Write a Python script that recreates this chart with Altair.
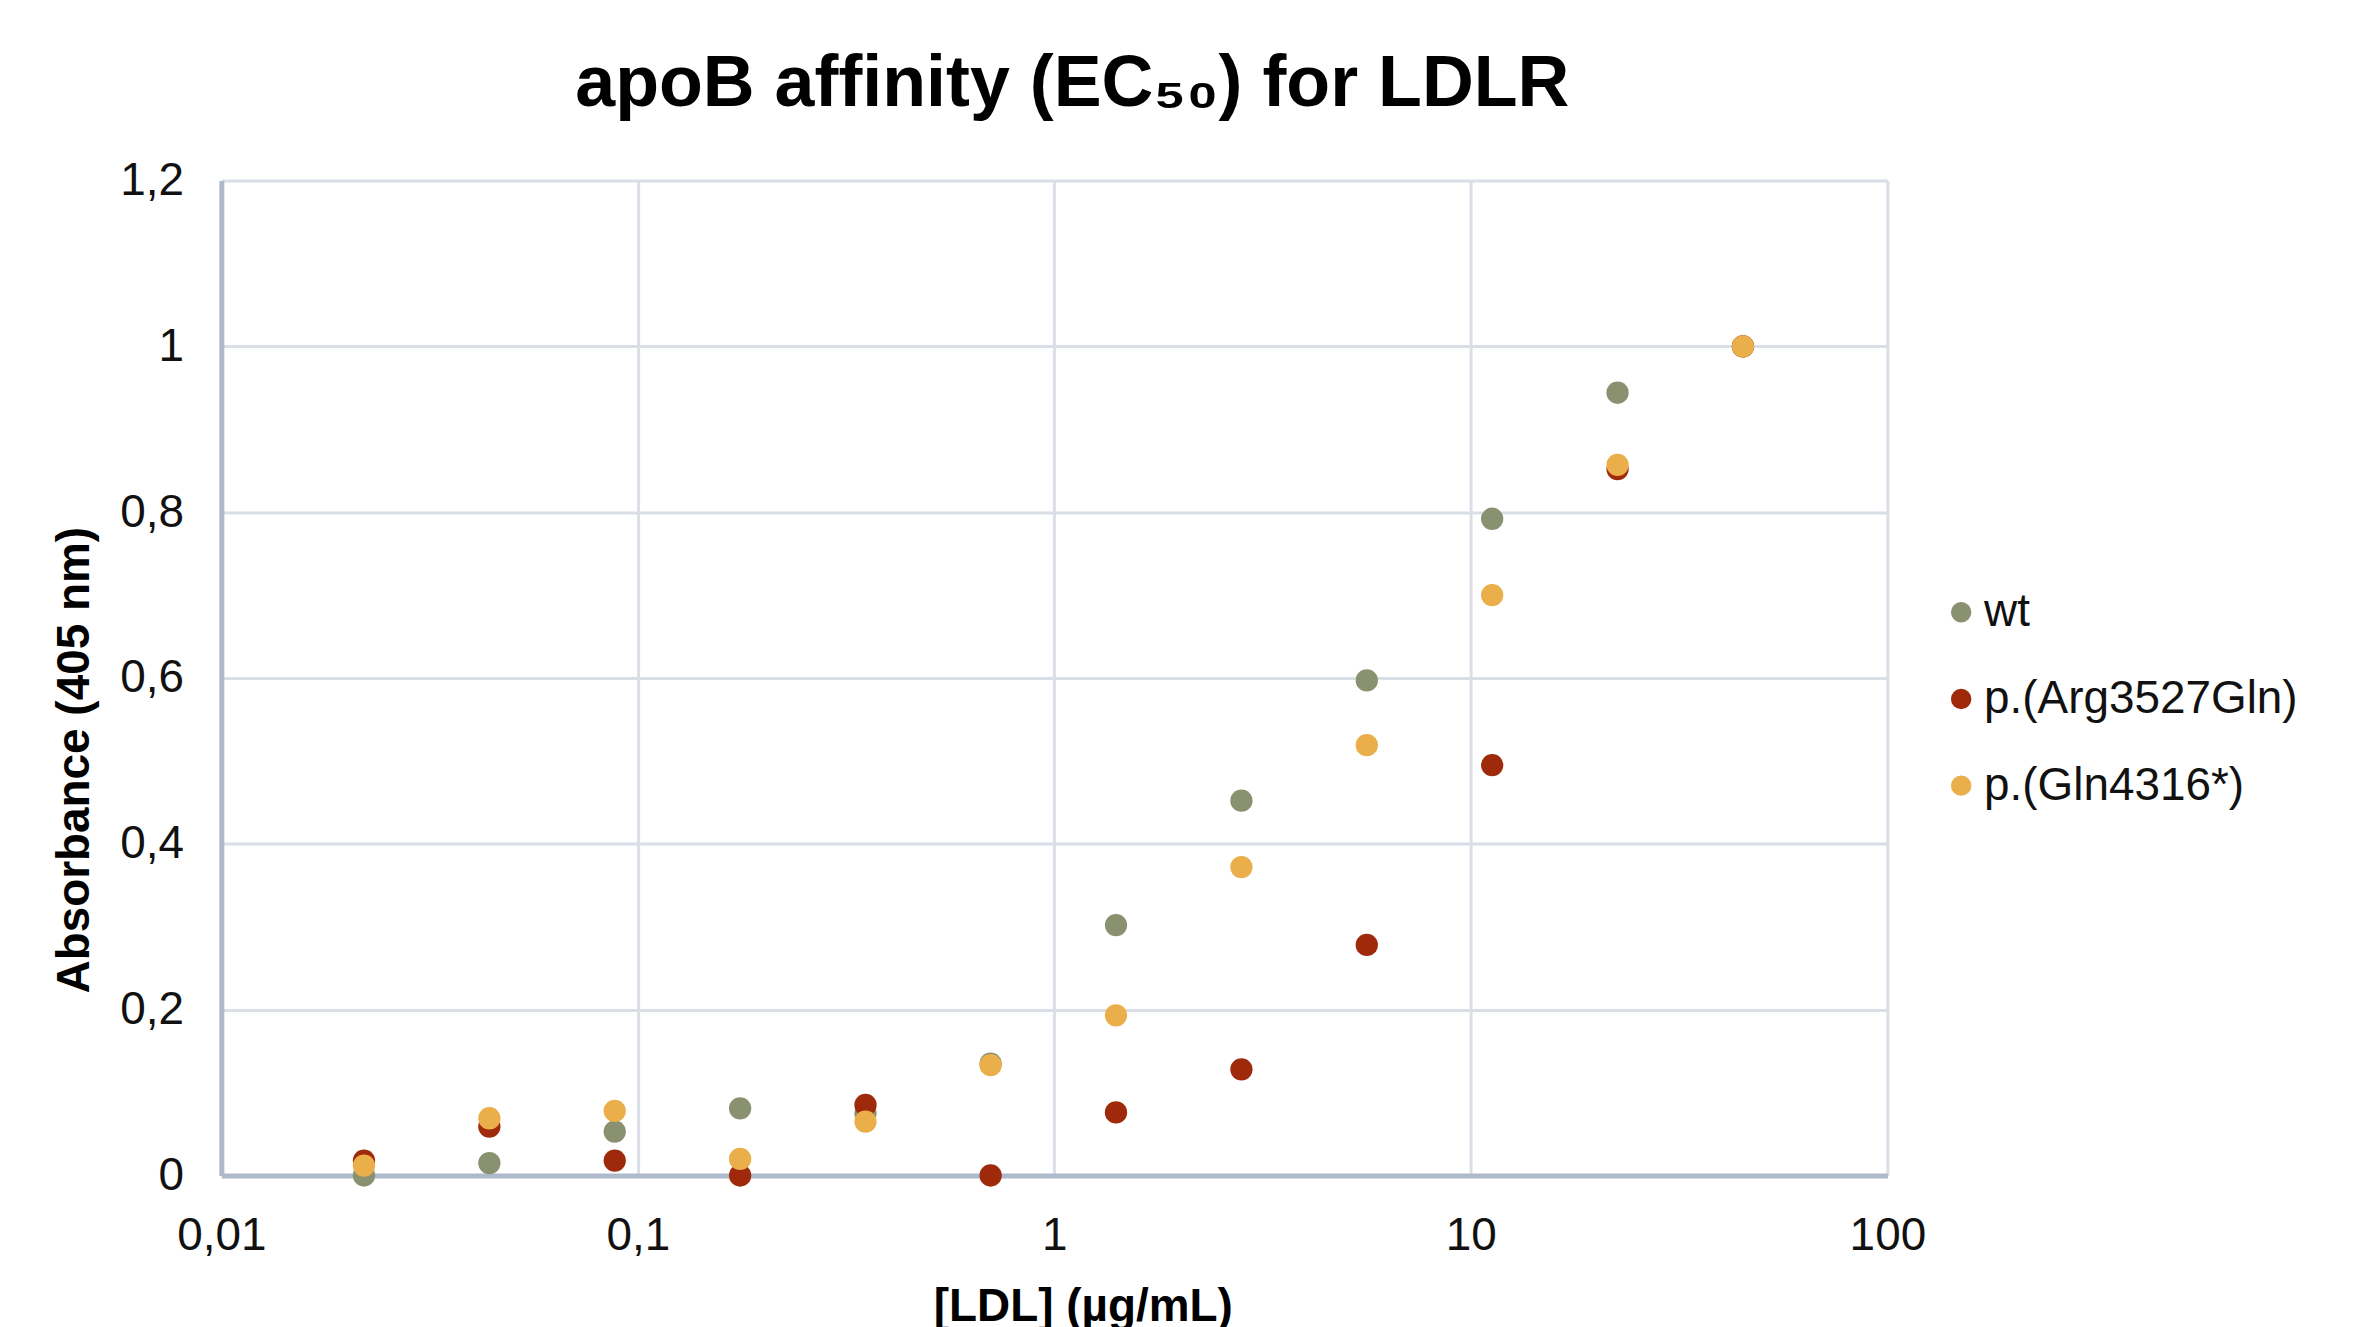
import altair as alt
import pandas as pd

# concentrations of LDL (µg/mL), 2-fold dilution series
conc = [0.022, 0.044, 0.088, 0.176, 0.352, 0.703, 1.406, 2.8125, 5.625, 11.25, 22.5, 45]

wt = [0.0, 0.015, 0.053, 0.081, 0.075, 0.135, 0.302, 0.452, 0.597, 0.792, 0.944, 1.0]
arg3527 = [0.018, 0.059, 0.018, 0.0, 0.085, 0.0, 0.076, 0.128, 0.278, 0.495, 0.852, 1.0]
gln4316 = [0.012, 0.069, 0.078, 0.020, 0.065, 0.133, 0.193, 0.372, 0.519, 0.700, 0.857, 1.0]

series_names = ["wt", "p.(Arg3527Gln)", "p.(Gln4316*)"]
series_colors = ["#8A9171", "#9E2A0B", "#EAAE4A"]

x_ticks = [0.01, 0.1, 1, 10, 100]
y_ticks = [0, 0.2, 0.4, 0.6, 0.8, 1.0, 1.2]

rows = []
for name, vals in zip(series_names, [wt, arg3527, gln4316]):
    for c, v in zip(conc, vals):
        rows.append({"conc": c, "abs": v, "series": name})
df = pd.DataFrame(rows)
df["order"] = df["series"].map({n: i for i, n in enumerate(series_names)})

FONT = "Liberation Sans, Arial, Helvetica, sans-serif"
GRID = "#D9DEE7"
DOMAIN = "#AEB9CC"

chart = alt.Chart(df).mark_point(filled=True, opacity=1, size=500, shape="circle").encode(
    x=alt.X(
        "conc:Q",
        scale=alt.Scale(type="log", domain=[0.01, 100], nice=False),
        axis=alt.Axis(
            values=x_ticks,
            title="[LDL] (µg/mL)",
            labelExpr="replace(toString(datum.value), '.', ',')",
            ticks=False,
            labelFlush=False,
            labelPadding=38,
            titlePadding=26,
            titleX=864,
        ),
    ),
    y=alt.Y(
        "abs:Q",
        scale=alt.Scale(domain=[0, 1.2], nice=False),
        axis=alt.Axis(
            values=y_ticks,
            title="Absorbance (405 nm)",
            labelExpr="replace(toString(datum.value), '.', ',')",
            ticks=False,
            labelPadding=38,
            titlePadding=21,
            titleY=581,
        ),
    ),
    color=alt.Color(
        "series:N",
        scale=alt.Scale(domain=series_names, range=series_colors),
        legend=alt.Legend(
            title=None,
            orient="none",
            legendX=1722,
            legendY=410,
            labelFontSize=46,
            labelFont=FONT,
            labelColor="#111111",
            labelLimit=0,
            symbolType="circle",
            symbolSize=420,
            symbolStrokeWidth=0,
            rowPadding=41,
            labelOffset=0,
            padding=0,
        ),
    ),
    order=alt.Order("order:Q"),
).properties(
    width=1671,
    height=998,
    padding={"left": 214, "top": 171, "right": 460, "bottom": 150},
    autosize=alt.AutoSizeParams(type="none"),
    background="white",
    title=alt.TitleParams(
        text="apoB affinity (EC₅₀) for LDLR",
        font=FONT,
        fontSize=72,
        fontWeight="bold",
        color="#000000",
        anchor="middle",
        frame="group",
        dx=18,
        offset=37,
    ),
).configure_view(
    stroke=None
).configure_axis(
    labelFont=FONT,
    labelFontSize=46,
    labelColor="#111111",
    titleFont=FONT,
    titleFontSize=46,
    titleFontWeight="bold",
    titleColor="#000000",
    gridColor=GRID,
    gridWidth=3,
    gridOpacity=1,
    domainColor=DOMAIN,
    domainWidth=5,
)

chart.save("out.html", embed_options={"renderer": "svg", "actions": False})
